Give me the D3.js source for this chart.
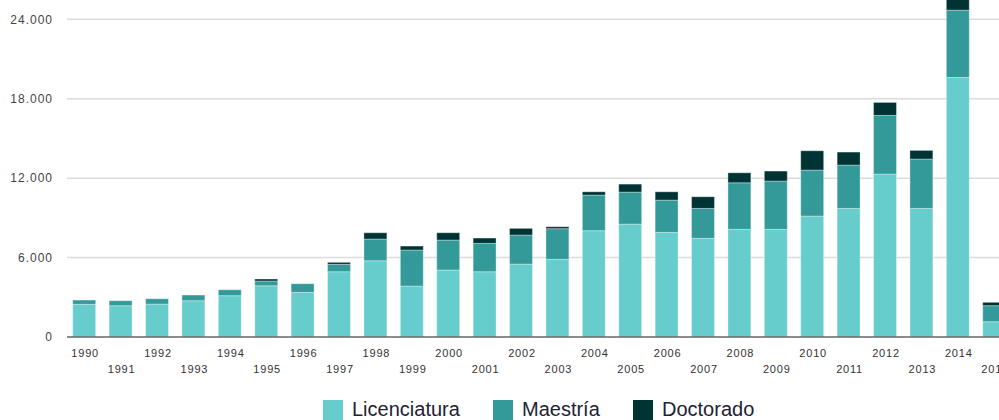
<!DOCTYPE html>
<html>
<head>
<meta charset="utf-8">
<script src="https://cdn.jsdelivr.net/npm/d3@7"></script>
<style>
  html, body { margin: 0; padding: 0; background: #fff; overflow: hidden; }
  svg { display: block; }
</style>
</head>
<body>
<svg id="chart" width="999" height="420"></svg>
<script>
const years = ["1990","1991","1992","1993","1994","1995","1996","1997","1998","1999","2000","2001","2002","2003","2004","2005","2006","2007","2008","2009","2010","2011","2012","2013","2014","2015"];
const licenciatura = [2470, 2365, 2490, 2740, 3120, 3870, 3375, 4930, 5760, 3850, 5060, 4930, 5510, 5865, 8030, 8530, 7905, 7450, 8130, 8130, 9135, 9715, 12305, 9715, 19605, 1155];
const maestria     = [ 320,  375,  400,  430,  450,  360,  650,  560, 1640, 2720, 2265, 2145, 2190, 2315, 2690, 2415, 2435, 2265, 3520, 3650, 3475, 3275, 4435, 3725, 5085, 1210];
const doctorado    = [   0,    0,    0,    0,    0,  150,    0,  150,  475,  300,  550,  400,  505,  150,  250,  605,  630,  880,  755,  755, 1460,  980,  980,  655,  900,  255];
const seriesNames = ["Licenciatura", "Maestría", "Doctorado"];
const seriesColors = ["#66cccc", "#339999", "#003333"];
const yTicks = [0, 6000, 12000, 18000, 24000];

const svg = d3.select("#chart");
const W = 999, H = 420;

const rows = years.map((y, i) => ({ year: y, Licenciatura: licenciatura[i], "Maestría": maestria[i], Doctorado: doctorado[i] }));
const stack = d3.stack().keys(seriesNames)(rows);

const x = d3.scaleBand().domain(years).range([66, 66 + 26 * 36.4]).paddingInner(0.37).paddingOuter(0.185);
const y = d3.scaleLinear().domain([0, 24000]).range([337, 19.3]);
const color = d3.scaleOrdinal().domain(seriesNames).range(seriesColors);

// gridlines
svg.append("g").selectAll("line").data(yTicks.filter(d => d > 0)).join("line")
  .attr("x1", 67).attr("x2", W)
  .attr("y1", d => y(d)).attr("y2", d => y(d))
  .attr("stroke", "#dcdcdc").attr("stroke-width", 1.5);

// y labels
const fmt = d => d === 0 ? "0" : d3.format(",")(d).replace(/,/g, ".");
svg.append("g").selectAll("text").data(yTicks).join("text")
  .attr("x", 53).attr("y", d => y(d))
  .attr("dy", "0.35em")
  .attr("text-anchor", "end")
  .attr("font-family", "Liberation Sans, Arial, sans-serif")
  .attr("font-size", 12).attr("letter-spacing", 1)
  .attr("fill", "#444")
  .text(fmt);

// bars
svg.append("g").selectAll("g").data(stack).join("g")
  .attr("fill", d => color(d.key))
  .selectAll("rect").data(d => d.filter(s => s[1] - s[0] > 0)).join("rect")
  .attr("x", d => x(d.data.year))
  .attr("width", x.bandwidth())
  .attr("y", d => y(d[1]))
  .attr("height", d => y(d[0]) - y(d[1]))
  .attr("stroke", "#ffffff").attr("stroke-opacity", 0.35).attr("stroke-width", 1);

// baseline
svg.append("line").attr("x1", 67).attr("x2", W).attr("y1", y(0)).attr("y2", y(0))
  .attr("stroke", "#666").attr("stroke-width", 1.6);

// x labels
svg.append("g").selectAll("text").data(years).join("text")
  .attr("x", d => x(d) + x.bandwidth() / 2 + 1)
  .attr("y", (d, i) => i % 2 === 0 ? 357 : 373)
  .attr("text-anchor", "middle")
  .attr("font-family", "Liberation Sans, Arial, sans-serif")
  .attr("font-size", 11).attr("letter-spacing", 0.8)
  .attr("fill", "#333")
  .text(d => d);

// legend
const legendX = [323, 493, 633];
const lg = svg.append("g").selectAll("g").data(seriesNames).join("g")
  .attr("transform", (d, i) => `translate(${legendX[i]},400)`);
lg.append("rect").attr("width", 20).attr("height", 20).attr("fill", d => color(d));
lg.append("text").attr("x", 29).attr("y", 16)
  .attr("font-family", "Liberation Sans, Arial, sans-serif")
  .attr("font-size", 20).attr("fill", "#222233")
  .text(d => d);
</script>
</body>
</html>
